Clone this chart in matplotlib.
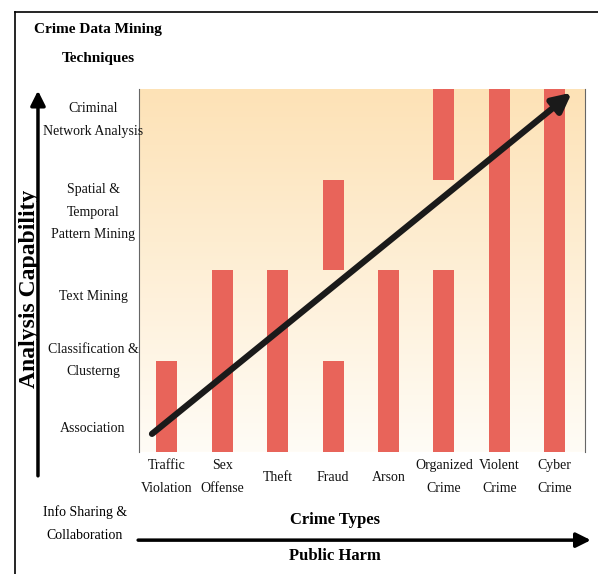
import numpy as np
import matplotlib
matplotlib.use('Agg')
import matplotlib.pyplot as plt
from matplotlib.colors import LinearSegmentedColormap
from matplotlib.transforms import blended_transform_factory
from matplotlib.lines import Line2D

# crime types along the x axis (ordered by public harm)
crime_types = ['Traffic\nViolation', 'Sex\nOffense', 'Theft', 'Fraud', 'Arson',
               'Organized\nCrime', 'Violent\nCrime', 'Cyber\nCrime']
# capability bands covered by each crime type: (start, end) in band units
crime_segments = [
    [(0, 1)],
    [(0, 2)],
    [(0, 2)],
    [(0, 1), (2, 3)],
    [(0, 2)],
    [(0, 2), (3, 4)],
    [(0, 4)],
    [(0, 4)],
]
techniques = ['Association', 'Classification &\nClusterng', 'Text Mining',
              'Spatial &\nTemporal\nPattern Mining', 'Criminal\nNetwork Analysis']
technique_pos = [0.26, 1.01, 1.71, 2.64, 3.66]
trend_start = (-0.27, 0.2)
trend_end = (7.31, 3.96)

serif = ['Liberation Serif', 'DejaVu Serif']
plt.rcParams['font.family'] = serif

fig = plt.figure(figsize=(5.98, 5.74), dpi=100, facecolor='white')
ax = fig.add_axes([0.2324, 0.2125, 0.7456, 0.6325])

xlim = (-0.505, 7.545)
ylim = (0, 4)
ax.set_xlim(*xlim)
ax.set_ylim(*ylim)

# warm gradient background
cmap = LinearSegmentedColormap.from_list('warm', ['#FFFCF6', '#FEEFD6', '#FDE2B6'])
grad = np.linspace(0, 1, 256)[:, None]
ax.imshow(grad, cmap=cmap, aspect='auto', origin='lower',
          extent=[xlim[0], xlim[1], ylim[0], ylim[1]], zorder=0)

bar_w = 0.38
for i, segs in enumerate(crime_segments):
    for lo, hi in segs:
        ax.bar(i, hi - lo, bottom=lo, width=bar_w, color='#E8645A',
               edgecolor='none', zorder=2)

# trend arrow
ax.annotate('', xy=trend_end, xytext=trend_start,
            arrowprops=dict(arrowstyle='-|>', lw=4.5, color='#1a1a1a',
                            mutation_scale=28, shrinkA=0, shrinkB=0),
            zorder=3)

for s in ['top', 'bottom']:
    ax.spines[s].set_visible(False)
for s in ['left', 'right']:
    ax.spines[s].set_color('#666666')
    ax.spines[s].set_linewidth(0.8)
ax.set_xticks([])
ax.set_yticks([])

# x labels (crime types)
tx = blended_transform_factory(ax.transData, ax.transAxes)
for i, name in enumerate(crime_types):
    ax.text(i, -0.069, name, transform=tx, ha='center', va='center',
            fontsize=10, linespacing=1.95, color='#111111')

# y labels (techniques)
ty = blended_transform_factory(ax.transAxes, ax.transData)
for pos, name in zip(technique_pos, techniques):
    ax.text(-0.103, pos, name, transform=ty, ha='center', va='center',
            fontsize=10, linespacing=1.95, color='#111111')

# figure-level annotations
fig.text(0.164, 0.923, 'Crime Data Mining\nTechniques', ha='center', va='center',
         fontsize=11, fontweight='bold', linespacing=2.6)
fig.text(0.049, 0.497, 'Analysis Capability', rotation=90, ha='center', va='center',
         fontsize=17, fontweight='bold')
fig.text(0.142, 0.087, 'Info Sharing &\nCollaboration', ha='center', va='center',
         fontsize=10, linespacing=2.0)
fig.text(0.560, 0.094, 'Crime Types', ha='center', va='center',
         fontsize=12, fontweight='bold')
fig.text(0.560, 0.031, 'Public Harm', ha='center', va='center',
         fontsize=12, fontweight='bold')

fig.patches.append(matplotlib.patches.FancyArrowPatch(
    (0.0635, 0.171), (0.0635, 0.842), transform=fig.transFigure,
    arrowstyle='-|>', lw=2.5, color='black', mutation_scale=22, shrinkA=0, shrinkB=0))
fig.patches.append(matplotlib.patches.FancyArrowPatch(
    (0.231, 0.059), (0.988, 0.059), transform=fig.transFigure,
    arrowstyle='-|>', lw=2.5, color='black', mutation_scale=22, shrinkA=0, shrinkB=0))

# outer frame
fig.add_artist(Line2D([0.025, 1.0], [0.979, 0.979], transform=fig.transFigure,
                      color='black', lw=1.2))
fig.add_artist(Line2D([0.025, 0.025], [0.0, 0.979], transform=fig.transFigure,
                      color='black', lw=1.2))

fig.savefig('out.png', dpi=100, facecolor='white')
